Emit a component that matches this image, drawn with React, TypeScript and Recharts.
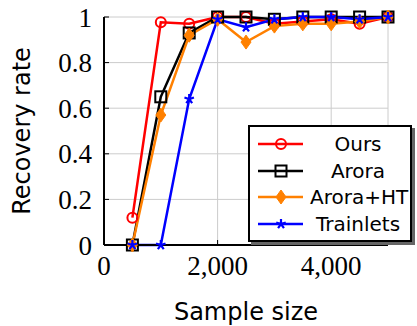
import React from 'react';
import { LineChart, Line, XAxis, YAxis, CartesianGrid, Legend } from 'recharts';

const sampleSizes = [500, 1000, 1500, 2000, 2500, 3000, 3500, 4000, 4500, 5000];
const ours = [0.12, 0.977, 0.97, 1.0, 1.0, 0.97, 0.98, 0.99, 0.97, 1.0];
const arora = [0, 0.65, 0.93, 1.0, 1.0, 0.99, 1.0, 1.0, 1.0, 1.0];
const aroraHT = [0, 0.57, 0.92, 0.99, 0.89, 0.96, 0.97, 0.97, 0.98, 1.0];
const trainlets = [0, 0, 0.64, 0.99, 0.955, 0.99, 1.0, 1.0, 0.99, 1.0];

const xTicks = [0, 2000, 4000];
const yTicks = [0, 0.2, 0.4, 0.6, 0.8, 1];

const data = sampleSizes.map((n, i) => ({
  n,
  ours: ours[i],
  arora: arora[i],
  aroraHT: aroraHT[i],
  trainlets: trainlets[i],
}));

const RED = '#ff0000';
const BLACK = '#000000';
const ORANGE = '#ff8000';
const BLUE = '#0000ff';

const tickFont = { fontFamily: 'Liberation Serif', fontSize: 27, fill: '#000' };
const labelFont = 'DejaVu Sans';

function Marker({ kind, cx, cy, color }: { kind: string; cx: number; cy: number; color: string }) {
  if (kind === 'circle') {
    return <circle cx={cx} cy={cy} r={5} fill="none" stroke={color} strokeWidth={2} />;
  }
  if (kind === 'square') {
    return <rect x={cx - 5.5} y={cy - 5.5} width={11} height={11} fill="none" stroke={color} strokeWidth={2} />;
  }
  if (kind === 'diamond') {
    return (
      <polygon
        points={`${cx},${cy - 7} ${cx + 5},${cy} ${cx},${cy + 7} ${cx - 5},${cy}`}
        fill={color}
        stroke={color}
        strokeWidth={1}
      />
    );
  }
  // star: 5 spokes
  const arms = [0, 1, 2, 3, 4].map((k) => {
    const a = (-90 + k * 72) * (Math.PI / 180);
    return `M${cx},${cy}L${cx + 5 * Math.cos(a)},${cy + 5 * Math.sin(a)}`;
  });
  return <path d={arms.join('')} stroke={color} strokeWidth={2.2} fill="none" />;
}

const series = [
  { key: 'ours', name: 'Ours', color: RED, mark: 'circle' },
  { key: 'arora', name: 'Arora', color: BLACK, mark: 'square' },
  { key: 'aroraHT', name: 'Arora+HT', color: ORANGE, mark: 'diamond' },
  { key: 'trainlets', name: 'Trainlets', color: BLUE, mark: 'star' },
];

function LegendBox() {
  return (
    <div
      style={{
        background: '#fff',
        border: '2px solid #000',
        boxShadow: '3px 3px 0 #666',
        width: 164,
        boxSizing: 'border-box',
        padding: '4px 0 3px 0',
      }}
    >
      {series.map((s) => (
        <div key={s.key} style={{ display: 'flex', alignItems: 'center', height: 26.5 }}>
          <svg width={60} height={20} style={{ flex: 'none' }}>
            <line x1={8} y1={10} x2={53} y2={10} stroke={s.color} strokeWidth={2.5} />
            <Marker kind={s.mark} cx={31} cy={10} color={s.color} />
          </svg>
          <span
            style={{
              flex: 1,
              textAlign: 'center',
              fontFamily: labelFont,
              fontSize: 20,
              color: '#000',
              lineHeight: '20px',
              paddingRight: 4,
            }}
          >
            {s.name}
          </span>
        </div>
      ))}
    </div>
  );
}

export default function App() {
  return (
    <div style={{ position: 'absolute', left: 0, top: 0, width: 417, height: 326, background: '#fff' }}>
      <LineChart
        width={417}
        height={326}
        data={data}
        margin={{ top: 17, right: 29, bottom: 0, left: 0 }}
      >
        <CartesianGrid xAxisId="bottom" yAxisId="left" stroke="#cccccc" strokeWidth={1} />
        <XAxis
          xAxisId="bottom"
          dataKey="n"
          type="number"
          domain={[0, 5000]}
          ticks={xTicks}
          tickFormatter={(v: number) => v.toLocaleString('en-US')}
          height={81}
          tick={tickFont}
          tickSize={-5}
          tickMargin={16}
          tickLine={{ stroke: '#000', strokeWidth: 1 }}
          axisLine={{ stroke: '#000', strokeWidth: 2 }}
          label={{
            value: 'Sample size',
            position: 'insideBottom',
            offset: 6,
            style: { fontFamily: labelFont, fontSize: 24, fill: '#000' },
          }}
        />
        <XAxis
          xAxisId="top"
          orientation="top"
          dataKey="n"
          type="number"
          domain={[0, 5000]}
          ticks={xTicks}
          height={0}
          tick={false}
          axisLine={{ stroke: '#000', strokeWidth: 2 }}
        />
        <YAxis
          yAxisId="left"
          type="number"
          domain={[0, 1]}
          ticks={yTicks}
          width={104}
          tick={tickFont}
          tickFormatter={(v: number) => String(v)}
          tickSize={-5}
          tickMargin={17}
          tickLine={{ stroke: '#000', strokeWidth: 1 }}
          axisLine={{ stroke: '#000', strokeWidth: 2 }}
          label={{
            value: 'Recovery rate',
            angle: -90,
            position: 'insideLeft',
            offset: 21,
            style: { fontFamily: labelFont, fontSize: 24, fill: '#000', textAnchor: 'middle' },
          }}
        />
        <YAxis
          yAxisId="right"
          orientation="right"
          type="number"
          domain={[0, 1]}
          ticks={yTicks}
          width={0}
          tick={false}
          axisLine={{ stroke: '#000', strokeWidth: 2 }}
        />
        <Legend
          layout="horizontal"
          verticalAlign="middle"
          align="center"
          wrapperStyle={{ left: 248, top: 125, width: 164 }}
          content={() => <LegendBox />}
        />
        {series.map((s) => (
          <Line
            key={s.key}
            xAxisId="bottom"
            yAxisId="left"
            dataKey={s.key}
            name={s.name}
            type="linear"
            stroke={s.color}
            strokeWidth={2.5}
            isAnimationActive={false}
            dot={(p: any) => <Marker key={`${s.key}-${p.index}`} kind={s.mark} cx={p.cx} cy={p.cy} color={s.color} />}
            activeDot={false}
          />
        ))}
      </LineChart>
    </div>
  );
}
